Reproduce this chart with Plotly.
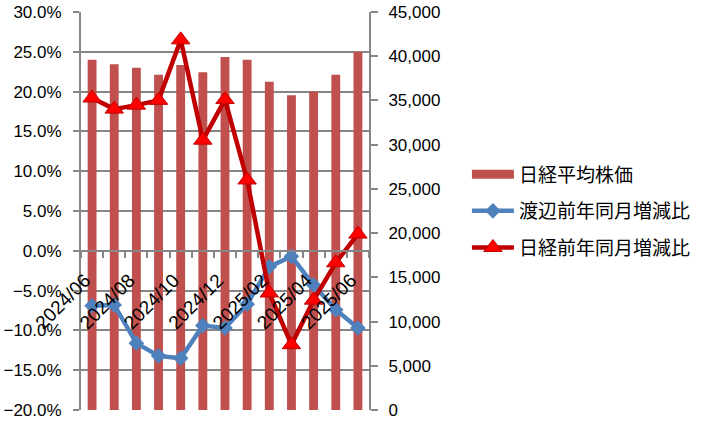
import plotly.graph_objects as go

months = ["2024/06", "2024/07", "2024/08", "2024/09", "2024/10", "2024/11", "2024/12",
          "2025/01", "2025/02", "2025/03", "2025/04", "2025/05", "2025/06"]
nikkei_avg = [39600, 39100, 38700, 37900, 39000, 38200, 39900,
              39600, 37100, 35600, 36000, 37900, 40500]
watanabe_yoy = [-6.9, -6.8, -11.6, -13.2, -13.5, -9.4, -9.7,
                -6.7, -2.0, -0.7, -4.3, -7.4, -9.7]
nikkei_yoy = [19.2, 17.8, 18.3, 18.9, 26.5, 13.9, 19.0,
              8.9, -5.3, -11.8, -6.2, -1.5, 2.1]
# every other month is labelled
month_labels = [m if i % 2 == 0 else "" for i, m in enumerate(months)]

tick_font = dict(family="Liberation Sans", size=17, color="#000000")
grid_col = "#868686"
bar_col = "#C0504D"

fig = go.Figure()
fig.add_trace(go.Bar(
    x=months, y=nikkei_avg, name="日経平均株価", yaxis="y",
    marker=dict(color=bar_col, line=dict(width=0)), width=0.4,
    showlegend=False,
))
# legend swatch for the bars (wide rectangle like the reference)
fig.add_trace(go.Scatter(
    x=[None], y=[None], name="日経平均株価", yaxis="y2",
    mode="lines", line=dict(color=bar_col, width=9),
    legendgroup="a",
))
fig.add_trace(go.Scatter(
    x=months, y=watanabe_yoy, name="渡辺前年同月増減比", yaxis="y2",
    mode="lines+markers",
    line=dict(color="#4F81BD", width=4.5),
    marker=dict(symbol="diamond", size=12, color="#4F81BD"),
    legendgroup="b",
))
fig.add_trace(go.Scatter(
    x=months, y=nikkei_yoy, name="日経前年同月増減比", yaxis="y2",
    mode="lines+markers",
    line=dict(color="#C00000", width=4.5),
    marker=dict(symbol="triangle-up", size=16, color="#FF0000",
                line=dict(color="#C00000", width=1)),
    legendgroup="c",
))

fig.update_layout(
    width=708, height=426,
    margin=dict(l=81, r=332, t=12, b=16),
    paper_bgcolor="white", plot_bgcolor="white",
    showlegend=True,
    legend=dict(x=1.34, y=0.64, xanchor="left", yanchor="top",
                font=dict(family="Noto Sans CJK JP", size=19, color="#000000"),
                itemwidth=42, traceorder="grouped", tracegroupgap=9,
                bgcolor="rgba(0,0,0,0)"),
    xaxis=dict(
        type="category", range=[-0.5, 12.5], anchor="free", position=0.4,
        showgrid=False, showline=True, linecolor=grid_col, linewidth=2,
        ticks="outside", ticklen=6, tickcolor=grid_col, tickwidth=2,
        tickson="boundaries", tickmode="array",
        tickvals=months, ticktext=month_labels, tickangle=-45,
        tickfont=dict(family="Liberation Sans", size=19, color="#000000"),
        ticklabelstandoff=10, ticklabelshift=-7,
        zeroline=False, automargin=False,
    ),
    yaxis=dict(
        side="right", range=[0, 45000], dtick=5000, tickformat=",d",
        showgrid=False, showline=True, linecolor=grid_col, linewidth=2,
        ticks="outside", ticklen=7, tickcolor=grid_col, tickwidth=2,
        tickfont=tick_font, zeroline=False, anchor="x", automargin=False,
        ticklabelstandoff=7, ticklabeloverflow="allow",
    ),
    yaxis2=dict(
        side="left", overlaying="y", range=[-20, 30], dtick=5,
        tickformat=".1f", ticksuffix="%",
        showgrid=True, gridcolor=grid_col, gridwidth=2,
        showline=True, linecolor=grid_col, linewidth=2,
        ticks="outside", ticklen=6, tickcolor=grid_col, tickwidth=2,
        tickfont=tick_font, zeroline=False, anchor="x", automargin=False,
        ticklabelstandoff=8, ticklabeloverflow="allow",
    ),
)

# remove the browser's default 8px body margin so the figure fills the window
fig.write_html("out.html", config={"displayModeBar": False},
               post_script="document.body.style.margin='0px';")
